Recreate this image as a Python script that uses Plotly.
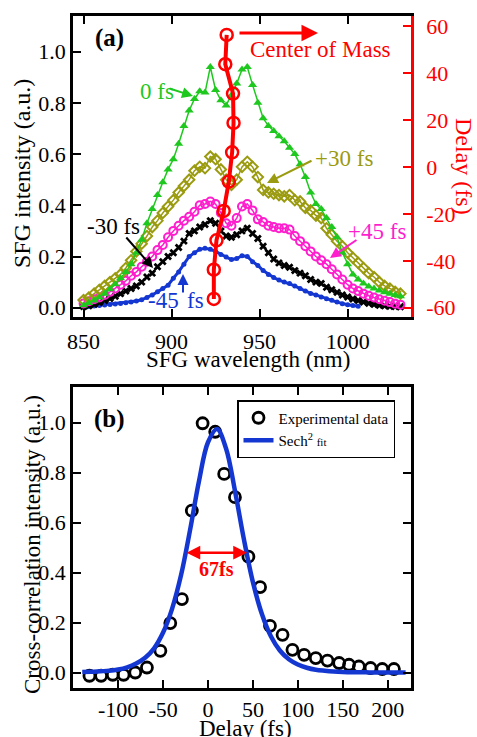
import plotly.graph_objects as go

# ---------------- data: panel (a) ----------------
wavelength_nm = list(range(850, 1031, 3))

spec_0fs = [0.010, 0.018, 0.028, 0.040, 0.055, 0.072, 0.092, 0.115, 0.140, 0.170,
            0.215, 0.265, 0.330, 0.385, 0.440, 0.490, 0.540, 0.580, 0.640, 0.710,
            0.770, 0.815, 0.845, 0.840, 0.940, 0.850, 0.810, 0.790, 0.830, 0.875,
            0.930, 0.940, 0.870, 0.800, 0.740, 0.710, 0.690, 0.670, 0.650, 0.625,
            0.600, 0.560, 0.510, 0.450, 0.405, 0.385, 0.350, 0.315, 0.275, 0.215,
            0.170, 0.130, 0.110, 0.095, 0.083, 0.075, 0.067, 0.060, 0.055, 0.050, 0.045]

spec_p30fs = [0.030, 0.040, 0.055, 0.070, 0.085, 0.100, 0.115, 0.130, 0.155, 0.185,
              0.220, 0.250, 0.280, 0.315, 0.340, 0.370, 0.395, 0.420, 0.450, 0.475,
              0.500, 0.535, 0.550, 0.545, 0.590, 0.580, 0.540, 0.500, 0.480, 0.500,
              0.550, 0.570, 0.550, 0.510, 0.460, 0.450, 0.445, 0.440, 0.435, 0.440,
              0.420, 0.415, 0.390, 0.380, 0.360, 0.350, 0.310, 0.285, 0.260, 0.240,
              0.215, 0.195, 0.175, 0.155, 0.135, 0.120, 0.100, 0.085, 0.075, 0.062, 0.055]

spec_p45fs = [0.017, 0.025, 0.033, 0.040, 0.050, 0.062, 0.075, 0.090, 0.105, 0.125,
              0.140, 0.160, 0.180, 0.200, 0.225, 0.245, 0.275, 0.300, 0.320, 0.340,
              0.355, 0.375, 0.400, 0.405, 0.415, 0.405, 0.370, 0.330, 0.320, 0.350,
              0.395, 0.405, 0.380, 0.345, 0.335, 0.320, 0.315, 0.310, 0.310, 0.305,
              0.280, 0.260, 0.240, 0.220, 0.200, 0.185, 0.170, 0.150, 0.130, 0.110,
              0.090, 0.075, 0.065, 0.055, 0.047, 0.040, 0.033, 0.027, 0.022, 0.016, 0.012]

spec_m30fs = [0.005, 0.008, 0.013, 0.020, 0.028, 0.036, 0.045, 0.055, 0.065, 0.075,
              0.085, 0.100, 0.120, 0.135, 0.160, 0.180, 0.200, 0.215, 0.235, 0.260,
              0.290, 0.300, 0.315, 0.325, 0.340, 0.330, 0.300, 0.280, 0.275, 0.285,
              0.300, 0.310, 0.290, 0.270, 0.240, 0.215, 0.190, 0.175, 0.165, 0.158,
              0.145, 0.135, 0.125, 0.110, 0.100, 0.095, 0.080, 0.070, 0.060, 0.050,
              0.042, 0.034, 0.028, 0.022, 0.017, 0.013, 0.010, 0.008, 0.006, 0.005, 0.004]

spec_m45fs = [0.003, 0.005, 0.007, 0.009, 0.011, 0.013, 0.015, 0.017, 0.019, 0.022,
              0.026, 0.031, 0.040, 0.050, 0.062, 0.075, 0.088, 0.115, 0.140, 0.170,
              0.200, 0.215, 0.228, 0.232, 0.228, 0.220, 0.208, 0.198, 0.188, 0.192,
              0.203, 0.200, 0.180, 0.165, 0.145, 0.130, 0.118, 0.108, 0.100, 0.095,
              0.085, 0.075, 0.065, 0.056, 0.050, 0.042, 0.035, 0.029, 0.022, 0.016,
              0.012, 0.009, 0.006, None, None, None, None, None, None, None, None]

com_wavelength = [931.3, 930.5, 934.9, 935.2, 934.4, 932.5, 929.6, 925.5, 924.0, 924.0]
com_delay = [56.25, 43.75, 31.25, 18.75, 6.25, -6.25, -18.75, -31.25, -43.75, -56.25]

# ---------------- data: panel (b) ----------------
xc_delay = [-132, -119, -106, -94, -81, -68, -53, -42, -29, -18, -6, 8, 18, 30,
            45, 58, 69, 83, 94, 107, 120, 133, 146, 157, 168, 181, 194, 207]
xc_intensity = [-0.013, -0.013, -0.009, -0.009, 0.000, 0.020, 0.087, 0.198, 0.294, 0.648,
                0.998, 0.964, 0.795, 0.702, 0.464, 0.342, 0.187, 0.151, 0.091, 0.071,
                0.058, 0.048, 0.038, 0.031, 0.024, 0.018, 0.014, 0.014]

fit_delay = list(range(-140, 221, 10))
fit_intensity = [0.002, 0.003, 0.005, 0.007, 0.012, 0.021, 0.036, 0.059, 0.097, 0.160,
                 0.255, 0.390, 0.570, 0.767, 0.922, 0.975, 0.898, 0.728, 0.533, 0.362,
                 0.234, 0.145, 0.088, 0.053, 0.032, 0.019, 0.011, 0.007, 0.004, 0.002,
                 0.001, 0.001, 0.0005, 0.0003, 0.0002, 0.0001, 0.0001]

yticks = [0, 0.2, 0.4, 0.6, 0.8, 1.0]
yticktext = ["0.0", "0.2", "0.4", "0.6", "0.8", "1.0"]
delay_ticks_a = [-60, -40, -20, 0, 20, 40, 60]
delay_text_a = ["-60", "-40", "-20", "0", "20", "40", "60"]
wl_ticks = [850, 900, 950, 1000]
delay_ticks_b = [-100, -50, 0, 50, 100, 150, 200]
delay_text_b = ["-100", "-50", "0", "50", "100", "150", "200"]

# ---------------- styling / layout ----------------
FONT = "Liberation Serif, Times New Roman, serif"
W_FIG, H_FIG = 477, 737
L, R, T, B = 73, 411, 16, 688
PW, PH = R - L, B - T


def pxx(x):
    return (x - L) / PW


def pxy(y):
    return (B - y) / PH


GREEN = "#1ec81e"
OLIVE = "#9b9b10"
MAGENTA = "#ff1ecd"
BLUE = "#1437d2"
RED = "#ff0000"

fig = go.Figure()

fig.add_trace(go.Scatter(x=wavelength_nm, y=spec_m45fs, mode="lines+markers",
                         line=dict(color=BLUE, width=3),
                         marker=dict(symbol="circle", size=5, color=BLUE),
                         showlegend=False, xaxis="x", yaxis="y"))
fig.add_trace(go.Scatter(x=wavelength_nm, y=spec_m30fs, mode="lines+markers",
                         line=dict(color="black", width=1.5),
                         marker=dict(symbol="x", size=7, color="black"),
                         showlegend=False, xaxis="x", yaxis="y"))
fig.add_trace(go.Scatter(x=wavelength_nm, y=spec_p45fs, mode="lines+markers",
                         line=dict(color=MAGENTA, width=1.5),
                         marker=dict(symbol="circle-open", size=8, color=MAGENTA,
                                     line=dict(width=2, color=MAGENTA)),
                         showlegend=False, xaxis="x", yaxis="y"))
fig.add_trace(go.Scatter(x=wavelength_nm, y=spec_p30fs, mode="lines+markers",
                         line=dict(color=OLIVE, width=1.5),
                         marker=dict(symbol="diamond-open", size=8, color=OLIVE,
                                     line=dict(width=2, color=OLIVE)),
                         showlegend=False, xaxis="x", yaxis="y"))
fig.add_trace(go.Scatter(x=wavelength_nm, y=spec_0fs, mode="lines+markers",
                         line=dict(color=GREEN, width=1.5),
                         marker=dict(symbol="triangle-up", size=8, color=GREEN),
                         showlegend=False, xaxis="x", yaxis="y"))
fig.add_trace(go.Scatter(x=com_wavelength, y=com_delay, mode="lines+markers",
                         line=dict(color=RED, width=4),
                         marker=dict(symbol="circle-open", size=12, color=RED,
                                     line=dict(width=2.5, color=RED)),
                         showlegend=False, xaxis="x", yaxis="y2"))

# panel (b)
fig.add_trace(go.Scatter(x=xc_delay, y=xc_intensity, mode="markers",
                         name="Experimental data",
                         marker=dict(symbol="circle-open", size=11, color="black",
                                     line=dict(width=2.8, color="black")),
                         xaxis="x2", yaxis="y3"))
fig.add_trace(go.Scatter(x=fit_delay, y=fit_intensity, mode="lines",
                         name="Sech<sup>2</sup> <span style='font-size:11px'>fit</span>",
                         line=dict(color=BLUE, width=4.5, shape="spline"),
                         xaxis="x2", yaxis="y3"))

axis_common = dict(showline=True, linewidth=2.5, linecolor="black", ticks="inside",
                   ticklen=8, tickwidth=2, tickcolor="black", showgrid=False,
                   zeroline=False, tickfont=dict(family=FONT, size=22, color="black"))

fig.update_layout(
    width=W_FIG, height=H_FIG,
    margin=dict(l=L, r=W_FIG - R, t=T, b=H_FIG - B, pad=0),
    paper_bgcolor="white", plot_bgcolor="white",
    font=dict(family=FONT, color="black"),
    xaxis=dict(domain=[0, 1], anchor="y", range=[844, 1036], tickvals=wl_ticks,
               mirror="ticks", ticklabelstandoff=3, **axis_common),
    yaxis=dict(domain=[pxy(316.7), 1], anchor="x", range=[-0.035, 1.139],
               tickvals=yticks, ticktext=yticktext, mirror=False, **axis_common),
    yaxis2=dict(overlaying="y", side="right", anchor="x", range=[-63.8, 64.3],
                tickvals=delay_ticks_a, ticktext=delay_text_a,
                showline=True, linewidth=2.5, linecolor=RED,
                ticks="inside", ticklen=8, tickwidth=2, tickcolor=RED,
                showgrid=False, zeroline=False, ticklabelstandoff=8,
                tickfont=dict(family=FONT, size=22, color=RED)),
    xaxis2=dict(domain=[0, 1], anchor="y3", range=[-150.3, 226],
                tickvals=delay_ticks_b, ticktext=delay_text_b,
                mirror="ticks", **axis_common),
    yaxis3=dict(domain=[0, pxy(387.3)], anchor="x2", range=[-0.062, 1.142],
                tickvals=yticks, ticktext=yticktext, mirror="ticks", **axis_common),
    legend=dict(x=pxx(237), y=pxy(400), xanchor="left", yanchor="top",
                bordercolor="black", borderwidth=1.5, bgcolor="white",
                font=dict(family=FONT, size=15, color="black"),
                tracegroupgap=0),
    showlegend=True,
)

ann = []


def text(x, y, s, size=23, color="black", angle=0):
    ann.append(dict(x=pxx(x), y=pxy(y), xref="paper", yref="paper", text=s,
                    showarrow=False, xanchor="center", yanchor="middle",
                    textangle=angle, font=dict(family=FONT, size=size, color=color)))


def arrow(tx, ty, hx, hy, color, width=2):
    ann.append(dict(x=pxx(hx), y=pxy(hy), xref="paper", yref="paper", text="",
                    showarrow=True, ax=tx - hx, ay=ty - hy, axref="pixel", ayref="pixel",
                    arrowhead=2, arrowsize=1.1, arrowwidth=width, arrowcolor=color))


# axis titles
text(22, 174, "SFG intensity (a.u.)", size=24, angle=-90)
text(248, 359, "SFG wavelength (nm)", size=23)
text(464, 166, "Delay (fs)", size=24, color=RED, angle=90)
text(32, 545, "Cross-correlation intensity (a.u.)", size=23, angle=-90)
text(245, 729, "Delay (fs)", size=23)

# panel labels
text(109, 38, "<b>(a)</b>", size=25)
text(109, 419, "<b>(b)</b>", size=25)

# panel (a) annotations
text(157, 91, "0 fs", color=GREEN)
arrow(168, 88, 193, 96, GREEN)
text(320, 49, "Center of Mass", color=RED)
arrow(238, 33, 318, 33, RED, width=3)
text(344, 158, "+30 fs", color=OLIVE)
arrow(313, 160, 267, 183, OLIVE)
text(377, 232, "+45 fs", color=MAGENTA)
arrow(358, 239, 330, 258, MAGENTA)
text(113, 226, "-30 fs", color="black")
arrow(125, 236, 153, 268, "black")
text(163, 300, "-45", color=BLUE)
text(195, 300, "fs", color=BLUE)
arrow(183, 294, 183, 274, BLUE)

# panel (b) annotation
text(216, 569, "<b>67fs</b>", size=20, color=RED)
ann.append(dict(x=pxx(247), y=pxy(552.7), xref="paper", yref="paper", text="",
                showarrow=True, ax=185 - 247, ay=0, axref="pixel", ayref="pixel",
                arrowhead=2, startarrowhead=2, arrowside="end+start",
                arrowsize=1.1, arrowwidth=2.5, arrowcolor=RED))

fig.update_layout(annotations=ann)

fig.write_html("out.html", config={"displayModeBar": False},
               post_script="document.body.style.margin='0';"
                           "document.body.style.overflow='hidden';")
